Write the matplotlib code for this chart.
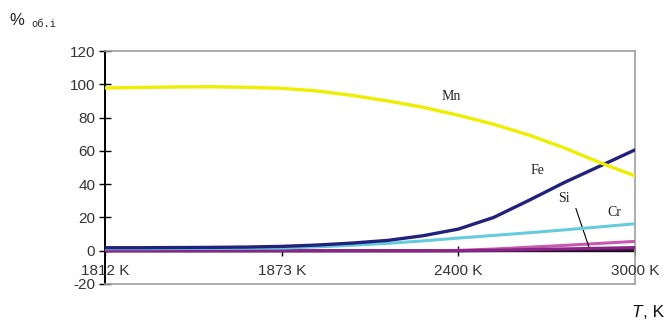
import matplotlib.pyplot as plt

plt.rcParams["axes.unicode_minus"] = False

# positions along the category axis, labelled every 10 steps
steps = [0, 2, 4, 6, 8, 10, 12, 14, 16, 18, 20, 22, 24, 26, 28, 30]
tick_pos = [0, 10, 20, 30]
tick_labels = ["1812 K", "1873 K", "2400 K", "3000 K"]

mn = [97.8, 98.1, 98.4, 98.5, 98.2, 97.6, 96.0, 93.3, 90.0, 86.2, 81.4, 76.0, 69.5, 61.8, 53.0, 45.0]
fe = [1.8, 1.8, 1.9, 2.0, 2.2, 2.6, 3.4, 4.6, 6.2, 9.0, 13.0, 20.0, 30.3, 41.0, 50.8, 60.6]
cr = [1.2, 1.2, 1.3, 1.4, 1.5, 1.6, 2.3, 3.3, 4.4, 5.9, 7.6, 9.2, 10.8, 12.5, 14.3, 16.2]
si = [0.0, 0.0, 0.0, 0.0, 0.0, 0.0, 0.0, 0.0, 0.0, 0.0, 0.0, 0.1, 0.2, 0.3, 0.4, 0.5]
other1 = [0.0, 0.0, 0.0, 0.0, 0.0, 0.0, 0.0, 0.0, 0.0, 0.0, 0.0, 0.3, 0.7, 1.1, 1.5, 1.9]
other2 = [0.0, 0.0, 0.0, 0.0, 0.0, 0.0, 0.0, 0.0, 0.0, 0.0, 0.2, 1.0, 2.1, 3.2, 4.4, 5.6]

fig = plt.figure(figsize=(6.72, 3.27), dpi=100)
ax = fig.add_axes([0.1563, 0.1315, 0.7887, 0.7125])

ax.axhline(0, color="black", lw=1.0, zorder=1)
ax.plot(tick_pos, [0] * len(tick_pos), ls="none", marker="|", ms=7, mew=1, color="black", zorder=1)

ax.plot(steps, si, color="#3a1040", lw=2.2, zorder=2)
ax.plot(steps, other2, color="#c858b0", lw=2.2, zorder=3)
ax.plot(steps, other1, color="#862585", lw=2.2, zorder=4)
ax.plot(steps, cr, color="#66ccdd", lw=2.2, zorder=5)
ax.plot(steps, fe, color="#22227c", lw=2.4, zorder=6)
ax.plot(steps, mn, color="#eeee00", lw=2.4, zorder=7)

ax.set_xlim(0, 30)
ax.set_ylim(-20, 120)
ax.set_yticks(range(-20, 121, 20))
ax.set_xticks([])
ax.tick_params(axis="y", direction="inout", length=8, width=1, pad=3,
               labelsize=11, labelcolor="#333333")
for t in ax.get_yticklabels():
    t.set_family("Liberation Sans")

for side in ["top", "right", "bottom"]:
    ax.spines[side].set_color("#a0a0a0")
    ax.spines[side].set_linewidth(1.2)
ax.spines["left"].set_color("black")
ax.spines["left"].set_linewidth(1.4)

for x, lab in zip(tick_pos, tick_labels):
    ax.text(x, -12, lab, ha="center", va="center", fontsize=11,
            family="Liberation Sans", color="#333333")

# series names written next to the curves
serif = dict(family="Liberation Serif", fontsize=10, ha="center", va="center", color="#222222")
ax.text(19.6, 92.5, "Mn", **serif)
ax.text(24.5, 48, "Fe", **serif)
ax.text(26.0, 31.5, "Si", **serif)
ax.text(28.8, 23, "Cr", **serif)
ax.annotate("", xy=(27.45, 0.3), xytext=(26.6, 27),
            arrowprops=dict(arrowstyle="-", color="black", lw=0.8))

fig.text(0.014, 0.925, "%", fontsize=12, family="Liberation Sans", color="#222222")
fig.text(0.046, 0.918, "об.i", fontsize=7.5, family="Liberation Mono", color="#222222")
fig.text(0.94, 0.03, "T", fontsize=12.5, family="Liberation Sans", style="italic", color="#111111")
fig.text(0.957, 0.03, ", K", fontsize=12.5, family="Liberation Sans", color="#111111")

fig.savefig("out.png", dpi=100)
